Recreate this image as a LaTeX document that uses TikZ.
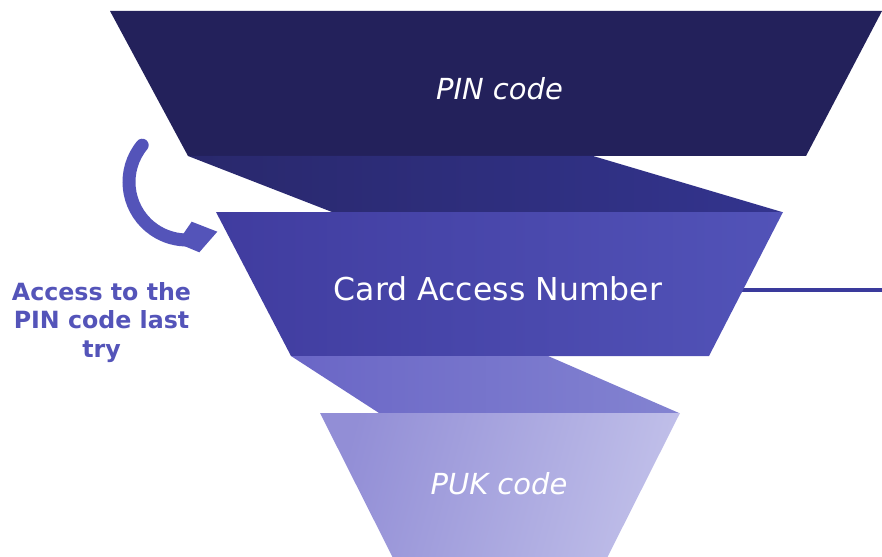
\documentclass[tikz,border=0pt]{standalone}
\usepackage{fontspec}
\setmainfont{DejaVu Sans}
\definecolor{navy}{HTML}{23215B}
\definecolor{linkA}{HTML}{29286C}
\definecolor{linkB}{HTML}{33348E}
\definecolor{midA}{HTML}{403C9F}
\definecolor{midB}{HTML}{5253B8}
\definecolor{lowA}{HTML}{6A66C6}
\definecolor{lowB}{HTML}{8383D1}
\definecolor{pukA}{HTML}{928ED6}
\definecolor{pukB}{HTML}{C0BFE9}
\definecolor{accent}{HTML}{5454B9}
\definecolor{rule}{HTML}{3A3A9C}
\tikzset{
  stagelabel/.style={text=white, inner sep=0pt, anchor=center},
  note/.style={text=accent, font=\bfseries\fontsize{23.7}{28.5}\selectfont, align=center, inner sep=0pt},
}
\begin{document}
\begin{tikzpicture}[x=1pt, y=-1pt]
  \useasboundingbox (0,0) rectangle (882,556);
  \clip (0,0) rectangle (882,556);

  % side rule behind the middle stage
  \coordinate (ruleStart) at (720,290);
  \coordinate (ruleEnd) at (882,290);
  \draw[rule, line width=4.5pt] (ruleStart) -- (ruleEnd);

  % stage 1
  \fill[navy] (110,11) -- (882,11) -- (806,156) -- (188,156) -- cycle;
  % link 1 -> 2
  \shade[left color=linkA, right color=linkB]
    (188,156) -- (593,156) -- (782,212) -- (332,212) -- cycle;
  % stage 2
  \shade[left color=midA, right color=midB]
    (216,212) -- (783,212) -- (709,356) -- (291,356) -- cycle;
  % link 2 -> 3
  \shade[left color=lowA, right color=lowB]
    (291,356) -- (548,356) -- (679,413) -- (379,413) -- cycle;
  % stage 3
  \shade[left color=pukA, right color=pukB, shading angle=75]
    (320,413) -- (680,413) -- (607,558) -- (393,558) -- cycle;

  % stage labels
  \node[stagelabel, font=\itshape\fontsize{29}{34}\selectfont] (pin) at (499.5,89) {PIN code};
  \node[stagelabel, font=\fontsize{31.5}{36}\selectfont] (can) at (498,289) {Card Access Number};
  \node[stagelabel, font=\itshape\fontsize{29}{34}\selectfont] (puk) at (499,484) {PUK code};

  % fallback note
  \node[note] (fallback) at (101.5,322.5) {Access to the\\PIN code last\\try};

  % curved arrow towards stage 2
  \coordinate (arcCentre) at (187,182);
  \draw[accent, line width=13pt, line cap=round]
    ([shift={(219.4:58)}]arcCentre) coordinate (arcStart)
    arc[start angle=140.6, end angle=268, radius=58pt] coordinate (arcEnd);
  \fill[accent] (191.7,221.7) -- (217.3,231.7) -- (199.3,252.3) -- (177,243) -- cycle;
\end{tikzpicture}
\end{document}
